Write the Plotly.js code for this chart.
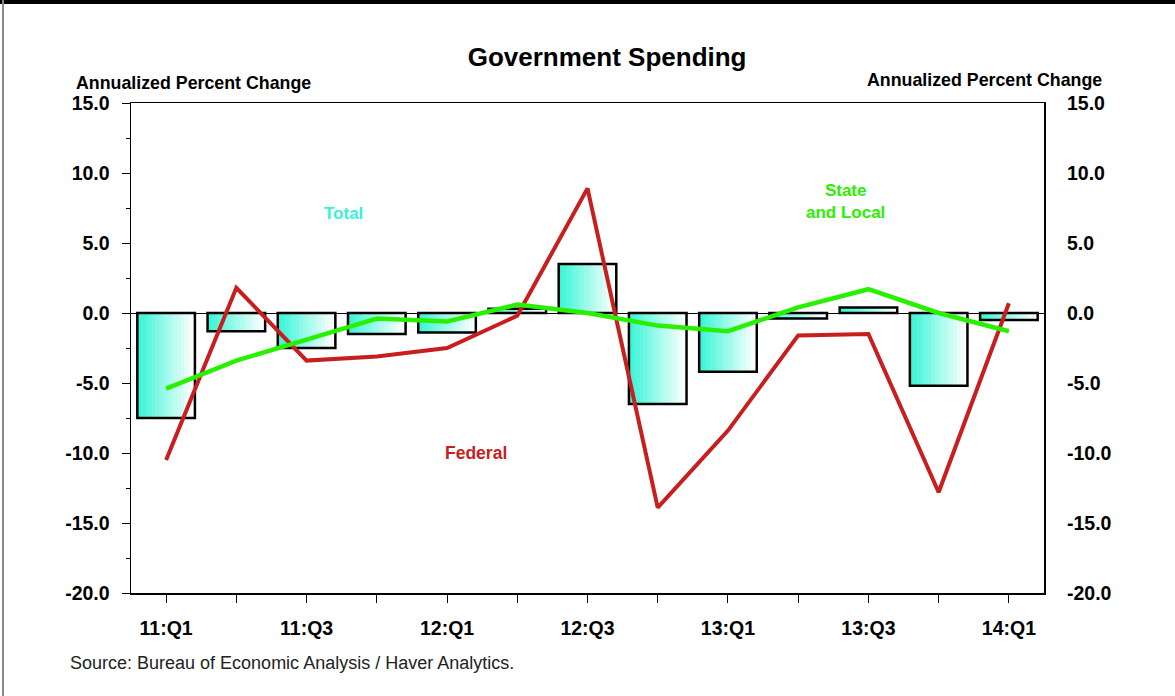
<!DOCTYPE html>
<html>
<head>
<meta charset="utf-8">
<script src="https://cdn.plot.ly/plotly-3.0.1.min.js"></script>
<style>
html,body{margin:0;padding:0;background:#fff;}
#chart{width:1175px;height:696px;}
</style>
</head>
<body>
<div id="chart"></div>
<script>
// ---- data ----
const quarters = ['11:Q1','11:Q2','11:Q3','11:Q4','12:Q1','12:Q2','12:Q3','12:Q4','13:Q1','13:Q2','13:Q3','13:Q4','14:Q1'];
const tickLabels = ['11:Q1','','11:Q3','','12:Q1','','12:Q3','','13:Q1','','13:Q3','','14:Q1'];
const total = [-7.5,-1.3,-2.5,-1.5,-1.4,0.3,3.5,-6.5,-4.2,-0.4,0.4,-5.2,-0.5];
const federal = [-10.5,1.8,-3.4,-3.1,-2.5,-0.2,8.9,-13.9,-8.4,-1.6,-1.5,-12.8,0.7];
const stateLocal = [-5.4,-3.4,-1.9,-0.4,-0.6,0.6,0.0,-0.9,-1.3,0.4,1.7,0.0,-1.3];
const yTicks = [-20,-15,-10,-5,0,5,10,15];

const FONT = 'Liberation Sans, Arial, sans-serif';
const BAR_W = 0.82;
const N = 16;
const c0 = [60,245,215], c1 = [255,255,255];

const traces = [];
// gradient strips for Total bars
for (let i = 0; i < N; i++) {
  const t = i / (N - 1);
  const col = c0.map((v, k) => Math.round(v + (c1[k] - v) * t));
  const w = BAR_W / N;
  traces.push({
    type: 'bar', x: quarters, y: total,
    width: w * 1.25, offset: -BAR_W / 2 + i * w,
    marker: {color: `rgb(${col.join(',')})`, line: {width: 0}},
    hoverinfo: 'skip', showlegend: false
  });
}
// outline
traces.push({
  type: 'bar', x: quarters, y: total, name: 'Total',
  width: BAR_W, offset: -BAR_W / 2,
  marker: {color: 'rgba(0,0,0,0)', line: {color: '#000', width: 2.5}},
  showlegend: false
});
traces.push({
  type: 'scatter', mode: 'lines', x: quarters, y: federal, name: 'Federal',
  line: {color: 'rgb(200,30,30)', width: 4}, showlegend: false
});
traces.push({
  type: 'scatter', mode: 'lines', x: quarters, y: stateLocal, name: 'State and Local',
  line: {color: 'rgb(40,240,0)', width: 4.5}, showlegend: false
});
// invisible trace for right axis
traces.push({
  type: 'scatter', mode: 'lines', x: quarters, y: stateLocal, yaxis: 'y2',
  line: {width: 0}, opacity: 0, hoverinfo: 'skip', showlegend: false
});

const fmt = v => v.toFixed(1);

const layout = {
  width: 1175, height: 696,
  margin: {l: 131, r: 131, t: 103, b: 103},
  paper_bgcolor: '#fff', plot_bgcolor: '#fff',
  barmode: 'overlay', bargap: 0,
  font: {family: FONT, color: '#000'},
  title: {text: '<b>Government Spending</b>', font: {size: 26, family: FONT, color: '#000'},
          x: 0.5167, xanchor: 'center', y: 1 - 57/696, yanchor: 'middle'},
  xaxis: {
    type: 'category', range: [-0.5, 12.5],
    tickmode: 'array', tickvals: quarters, ticktext: tickLabels.map(s => s ? '<b>' + s + '</b>' : ''),
    ticks: 'outside', ticklen: 8, tickcolor: '#000', tickwidth: 1,
    showline: true, linecolor: '#000', linewidth: 1.5, mirror: true,
    showgrid: false, zeroline: false,
    tickfont: {size: 19.5, family: FONT, color: '#000'},
    ticklabelstandoff: 9
  },
  yaxis: {
    range: [-20, 15], tickmode: 'array', tickvals: yTicks, ticktext: yTicks.map(v => '<b>' + fmt(v) + '</b>'),
    ticks: 'outside', ticklen: 8, tickcolor: '#000', tickwidth: 1,
    minor: {tickvals: [-17.5,-12.5,-7.5,-2.5,2.5,7.5,12.5], ticks: 'outside', ticklen: 4, tickcolor: '#000', showgrid: false},
    showline: true, linecolor: '#000', linewidth: 1.5, mirror: true,
    showgrid: false, zeroline: true, zerolinecolor: '#000', zerolinewidth: 1,
    tickfont: {size: 19.5, family: FONT, color: '#000'},
    ticklabelstandoff: 8
  },
  yaxis2: {
    overlaying: 'y', side: 'right', range: [-20, 15],
    tickmode: 'array', tickvals: yTicks, ticktext: yTicks.map(v => '<b>' + fmt(v) + '</b>'),
    ticks: '', showline: false, showgrid: false, zeroline: false,
    tickfont: {size: 19.5, family: FONT, color: '#000'},
    ticklabelstandoff: 22
  },
  annotations: [
    {text: '<b>Annualized Percent Change</b>', xref: 'paper', yref: 'paper',
     x: (193 - 131) / 913, y: 1 + (103 - 83) / 490, xanchor: 'center', yanchor: 'middle',
     showarrow: false, font: {size: 17.8, family: FONT, color: '#000'}},
    {text: '<b>Annualized Percent Change</b>', xref: 'paper', yref: 'paper',
     x: (984.5 - 131) / 913, y: 1 + (103 - 80) / 490, xanchor: 'center', yanchor: 'middle',
     showarrow: false, font: {size: 17.8, family: FONT, color: '#000'}},
    {text: '<b>Total</b>', xref: 'x', yref: 'y', x: 2.52, y: 7.1, showarrow: false,
     font: {size: 17, family: FONT, color: 'rgb(60,240,215)'}},
    {text: '<b>State<br>and Local</b>', xref: 'x', yref: 'y', x: 9.68, y: 8.0, showarrow: false,
     font: {size: 17, family: FONT, color: 'rgb(40,240,0)'}},
    {text: '<b>Federal</b>', xref: 'x', yref: 'y', x: 4.41, y: -10.0, showarrow: false,
     font: {size: 17.5, family: FONT, color: 'rgb(200,30,30)'}},
    {text: 'Source: Bureau of Economic Analysis / Haver Analytics.', xref: 'paper', yref: 'paper',
     x: (68 - 131) / 913, y: -(663 - 593) / 490, xanchor: 'left', yanchor: 'middle',
     showarrow: false, font: {size: 18, family: FONT, color: '#222'}}
  ],
  shapes: [
    {type: 'rect', xref: 'paper', yref: 'paper', x0: -131/913, x1: 1 + 131/913,
     y0: 1 + 103/490 - 4/490, y1: 1 + 103/490 + 0.01, fillcolor: '#000', line: {width: 0}, layer: 'above'},
    {type: 'line', xref: 'paper', yref: 'paper', x0: -128/913, x1: -128/913,
     y0: -103/490, y1: 1 + 103/490, line: {color: '#888', width: 2}, layer: 'above'}
  ]
};

Plotly.newPlot('chart', traces, layout, {displayModeBar: false, staticPlot: true});
</script>
</body>
</html>
